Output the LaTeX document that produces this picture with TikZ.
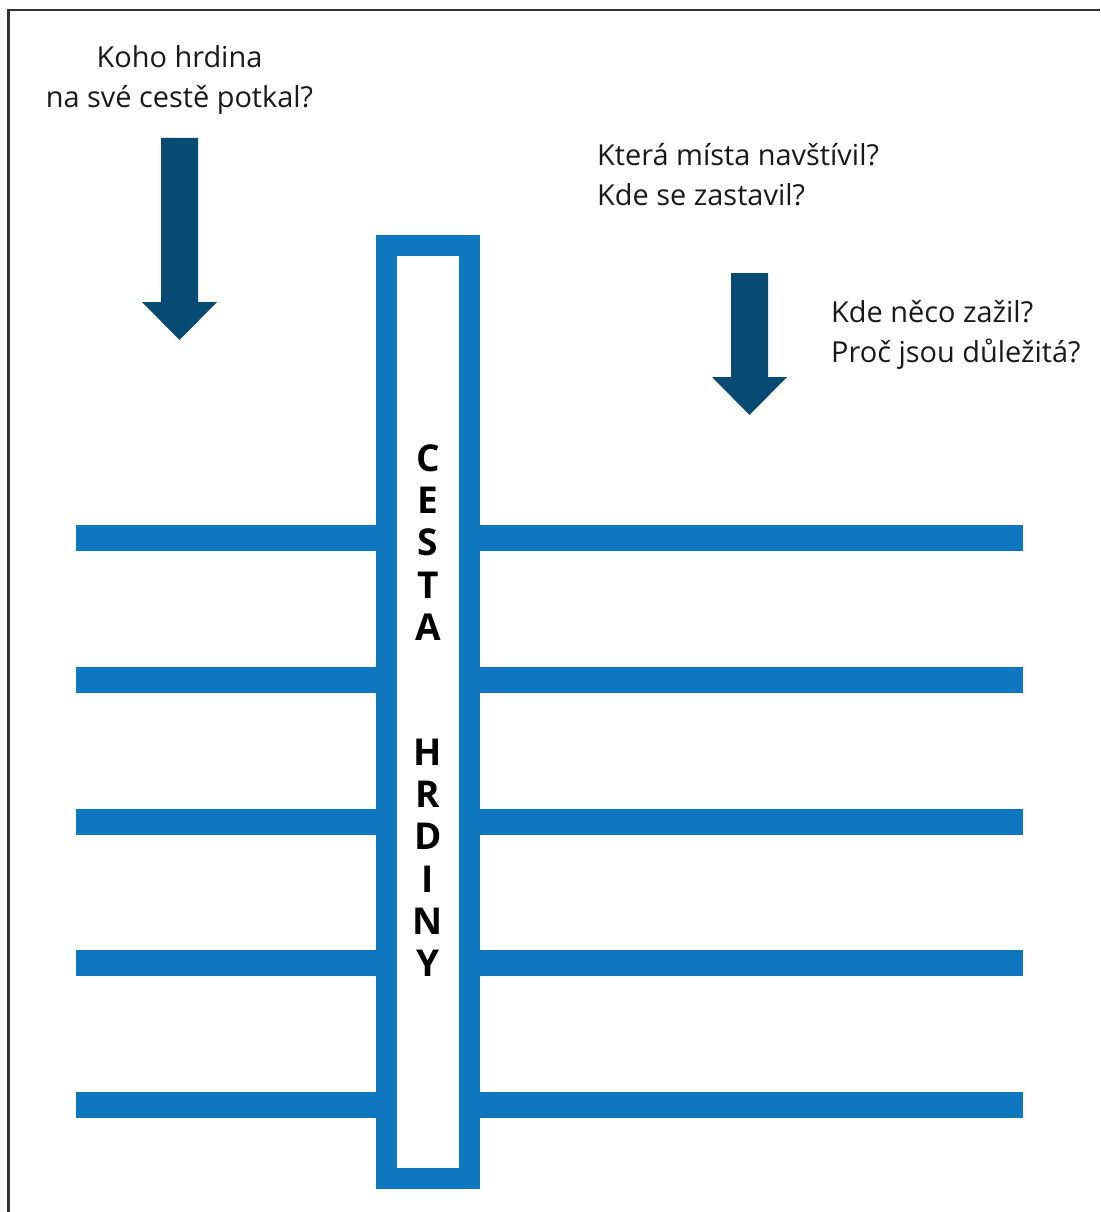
\documentclass[tikz,border=0pt]{standalone}
\usepackage{fontspec}
\setmainfont{Open Sans}
\definecolor{roadblue}{HTML}{0F77BE}
\definecolor{arrowblue}{HTML}{074A73}
\definecolor{framegray}{HTML}{333333}
\begin{document}
\begin{tikzpicture}[x=1pt,y=-1pt,
  q/.style={font=\fontsize{28.9}{40}\selectfont, inner sep=0pt, text=black!90},
  letter/.style={font=\bfseries\fontsize{37}{40}\selectfont, inner sep=0pt, anchor=center},
  bar/.style={fill=roadblue, draw=none},
  bigarrow/.style={fill=arrowblue, draw=none}]
\useasboundingbox (0,0) rectangle (1100,1212);
% frame
\draw[framegray, line width=2.5pt] (8.5,1212) -- (8.5,10) -- (1100,10);
% arrows
\fill[bigarrow] (161,138) -- (198,138) -- (198,302) -- (217,302) -- (179.5,340) -- (142,302) -- (161,302) -- cycle;
\fill[bigarrow] (731,273) -- (768,273) -- (768,377) -- (787,377) -- (749.5,415) -- (712,377) -- (731,377) -- cycle;
% bars
\foreach \i in {0,...,4}{
  \pgfmathsetmacro{\yc}{538+141.75*\i}
  \fill[bar] (76,\yc-13) rectangle (376,\yc+13);
  \fill[bar] (480,\yc-13) rectangle (1023,\yc+13);
}
% road
\draw[roadblue, line width=21pt, fill=white] (386.5,245.5) rectangle (469.5,1178.5);
% texts
\node[q, anchor=base] (t1) at (179.5,68) {Koho hrdina};
\node[q, anchor=base] (t2) at (179.5,108) {na své cestě potkal?};
\node[q, anchor=base west] (t3) at (597,165) {Která místa navštívil?};
\node[q, anchor=base west] (t4) at (597,205) {Kde se zastavil?};
\node[q, anchor=base west] (t5) at (831,322) {Kde něco zažil?};
\node[q, anchor=base west] (t6) at (831,362) {Proč jsou důležitá?};
% vertical letters
\foreach \l/\y [count=\k] in {C/458,E/500.3,S/542.6,T/584.9,A/627.2,H/752,R/794.3,D/836.6,I/878.9,N/921.2,Y/963.5}{
  \node[letter] (L\k) at (428,\y) {\l};
}
\end{tikzpicture}
\end{document}
